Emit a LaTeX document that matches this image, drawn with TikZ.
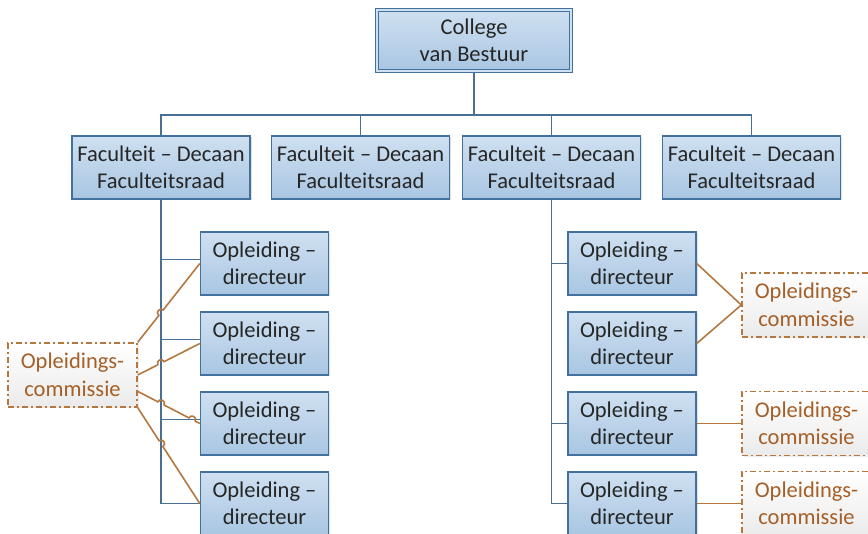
\documentclass[tikz,border=0pt]{standalone}
\usepackage{xcolor}
\usepackage{fontspec}
\setmainfont{Carlito}
\usetikzlibrary{shadows,calc}

\definecolor{boxtop}{HTML}{CFE0F1}
\definecolor{boxbot}{HTML}{A9C6E2}
\definecolor{boxline}{HTML}{41719C}
\definecolor{orgline}{HTML}{4A6F94}
\definecolor{comline}{HTML}{B5773F}
\definecolor{comtext}{HTML}{A55F27}
\definecolor{boxtext}{HTML}{262626}

\tikzset{
  orgbox/.style={rectangle,draw=boxline,line width=1.4pt,top color=boxtop,bottom color=boxbot,
    text=boxtext,align=center,inner sep=0pt,minimum height=63pt,
    font=\fontsize{22.5}{27.5}\selectfont,
    drop shadow={shadow xshift=1.5pt,shadow yshift=-1.5pt,opacity=0.25}},
  cvbbox/.style={orgbox,minimum width=194pt,minimum height=61pt,double=boxtop,double distance=2pt,line width=1.2pt},
  facbox/.style={orgbox,minimum width=178pt},
  opbox/.style={orgbox,minimum width=128pt},
  combox/.style={rectangle,draw=comline,line width=1.4pt,dash pattern=on 6pt off 3pt on 2pt off 3pt,
    top color=white,bottom color=black!8,text=comtext,align=center,inner sep=0pt,
    minimum width=129pt,minimum height=64pt,font=\fontsize{22.5}{27.5}\selectfont,
    drop shadow={shadow xshift=1.5pt,shadow yshift=-1.5pt,opacity=0.15}},
  orgedge/.style={draw=orgline,line width=1.6pt},
  comedge/.style={draw=comline,line width=1.6pt},
}

\begin{document}
\begin{tikzpicture}[x=1pt,y=1pt]
\clip (0,0) rectangle (868,-534);

\node at (474,-40.5) [cvbbox] (cvb) {College\\van Bestuur};

\node at (161,-167.5) [facbox] (fac1) {Faculteit -- Decaan\\Faculteitsraad};
\node at (360.5,-167.5) [facbox] (fac2) {Faculteit -- Decaan\\Faculteitsraad};
\node at (551.5,-167.5) [facbox] (fac3) {Faculteit -- Decaan\\Faculteitsraad};
\node at (751.5,-167.5) [facbox] (fac4) {Faculteit -- Decaan\\Faculteitsraad};

\node at (264.5,-263.5) [opbox] (lop1) {Opleiding --\\directeur};
\node at (264.5,-343.5) [opbox] (lop2) {Opleiding --\\directeur};
\node at (264.5,-423.5) [opbox] (lop3) {Opleiding --\\directeur};
\node at (264.5,-503.5) [opbox] (lop4) {Opleiding --\\directeur};

\node at (632,-263.5) [opbox] (rop1) {Opleiding --\\directeur};
\node at (632,-343.5) [opbox] (rop2) {Opleiding --\\directeur};
\node at (632,-423.5) [opbox] (rop3) {Opleiding --\\directeur};
\node at (632,-503.5) [opbox] (rop4) {Opleiding --\\directeur};

\node at (72.5,-375) [combox] (lcom) {Opleidings-\\commissie};
\node at (806.5,-305) [combox] (rcom1) {Opleidings-\\commissie};
\node at (806.5,-423.5) [combox] (rcom2) {Opleidings-\\commissie};
\node at (806.5,-503.5) [combox] (rcom3) {Opleidings-\\commissie};

% top of the tree
\coordinate (bus) at (474,-115);
\draw[orgedge] (cvb.south) -- (bus);
\draw[orgedge] (fac1.north) |- (bus) -| (fac4.north);
\draw[orgedge] (fac2.north) -- (fac2.north |- bus);
\draw[orgedge] (fac3.north) -- (fac3.north |- bus);

% left column
\coordinate (lb1) at ($(lop1.west)+(0,4)$);
\coordinate (lb2) at ($(lop2.west)+(0,4)$);
\coordinate (lb3) at ($(lop3.west)+(0,4)$);
\coordinate (ltop) at (fac1.south);
\coordinate (lbot) at (fac1.south |- lop4.west);
\coordinate (lb3s) at (ltop |- lb3);
\draw[orgedge] (ltop) |- (lop4.west);
\draw[orgedge] (ltop |- lb1) -- (lb1);
\draw[orgedge] (ltop |- lb2) -- (lb2);
\draw[orgedge] (lb3s) -- (lb3);

% right column
\draw[orgedge] (fac3.south) |- (rop4.west);
\draw[orgedge] (fac3.south |- rop1.west) -- (rop1.west);
\draw[orgedge] (fac3.south |- rop3.west) -- (rop3.west);

% commissies left, with hops over the blue lines
\coordinate (c1) at (lcom.north east);
\coordinate (c2) at (lcom.east);
\coordinate (c3) at ($(lcom.east)!0.5!(lcom.south east)$);
\coordinate (c4) at (lcom.south east);
\coordinate (h1) at (intersection of c1--lop1.west and ltop--lbot);
\coordinate (h2) at (intersection of c2--lop2.west and ltop--lbot);
\coordinate (h3) at (intersection of c3--lop3.west and ltop--lbot);
\coordinate (h5) at (intersection of c3--lop3.west and lb3s--lb3);
\coordinate (h4) at (intersection of c4--lop4.west and ltop--lbot);
\draw[comedge] (c1) -- ($(h1)!3.5pt!(c1)$) to[bend left=90,looseness=1.7] ($(h1)!3.5pt!(lop1.west)$) -- (lop1.west);
\draw[comedge] (c2) -- ($(h2)!3.5pt!(c2)$) to[bend left=90,looseness=1.7] ($(h2)!3.5pt!(lop2.west)$) -- (lop2.west);
\draw[comedge] (c3) -- ($(h3)!3.5pt!(c3)$) to[bend left=90,looseness=1.7] ($(h3)!3.5pt!(lop3.west)$)
  -- ($(h5)!3.5pt!(c3)$) to[bend left=90,looseness=1.7] ($(h5)!3.5pt!(lop3.west)$) -- (lop3.west);
\draw[comedge] (c4) -- ($(h4)!3.5pt!(c4)$) to[bend left=90,looseness=1.7] ($(h4)!3.5pt!(lop4.west)$) -- (lop4.west);

% commissies right
\draw[comedge] (rop1.east) -- (rcom1.west);
\draw[comedge] (rop2.east) -- (rcom1.west);
\draw[comedge] (rop3.east) -- (rcom2.west);
\draw[comedge] (rop4.east) -- (rcom3.west);
\end{tikzpicture}
\end{document}
